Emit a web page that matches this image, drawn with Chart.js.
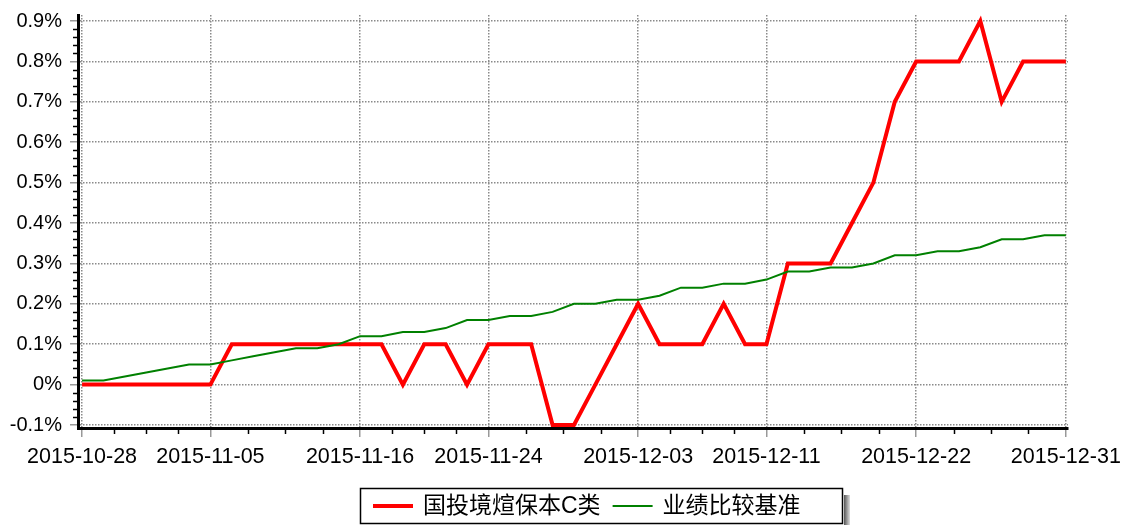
<!DOCTYPE html>
<html><head><meta charset="utf-8">
<script src="https://cdn.jsdelivr.net/npm/chart.js@4/dist/chart.umd.min.js"></script>
<style>html,body{margin:0;padding:0;background:#fff;}#wrap{width:1122px;height:525px;}</style>
</head><body><div id="wrap"><canvas id="c" width="1122" height="525"></canvas></div>
<script>
const dates = ['2015-10-28','2015-10-29','2015-10-30','2015-11-02','2015-11-03','2015-11-04','2015-11-05','2015-11-06',
'2015-11-09','2015-11-10','2015-11-11','2015-11-12','2015-11-13','2015-11-16','2015-11-17','2015-11-18','2015-11-19','2015-11-20',
'2015-11-23','2015-11-24','2015-11-25','2015-11-26','2015-11-27','2015-11-30','2015-12-01','2015-12-02','2015-12-03','2015-12-04',
'2015-12-07','2015-12-08','2015-12-09','2015-12-10','2015-12-11','2015-12-14','2015-12-15','2015-12-16','2015-12-17','2015-12-18',
'2015-12-21','2015-12-22','2015-12-23','2015-12-24','2015-12-25','2015-12-28','2015-12-29','2015-12-30','2015-12-31'];
const fundReturn = [0,0,0,0,0,0,0,0.1,0.1,0.1,0.1,0.1,0.1,0.1,0.1,0,0.1,0.1,0,0.1,0.1,0.1,-0.1,-0.1,0,0.1,0.2,0.1,0.1,0.1,0.2,0.1,0.1,
0.3,0.3,0.3,0.4,0.5,0.7,0.8,0.8,0.8,0.9,0.7,0.8,0.8,0.8];
const benchmarkReturn = [0.01,0.01,0.02,0.03,0.04,0.05,0.05,0.06,0.07,0.08,0.09,0.09,0.10,0.12,0.12,0.13,0.13,0.14,0.16,0.16,0.17,0.17,
0.18,0.20,0.20,0.21,0.21,0.22,0.24,0.24,0.25,0.25,0.26,0.28,0.28,0.29,0.29,0.30,0.32,0.32,0.33,0.33,0.34,0.36,0.36,0.37,0.37];
const tickDates = ['2015-10-28','2015-11-05','2015-11-16','2015-11-24','2015-12-03','2015-12-11','2015-12-22','2015-12-31'];
const yTicks = [-0.1,0,0.1,0.2,0.3,0.4,0.5,0.6,0.7,0.8,0.9];
const seriesNames = ['国投境煊保本C类','业绩比较基准'];
const seriesColors = ['#ff0000','#008000'];

const xTickIdx = tickDates.map(d => dates.indexOf(d));
const FONT = '"Liberation Sans", Arial, "Noto Sans CJK SC", sans-serif';

const extras = {
  id: 'extras',
  afterDraw(chart) {
    const ctx = chart.ctx, xs = chart.scales.x, ys = chart.scales.y;
    ctx.save();
    ctx.strokeStyle = '#000'; ctx.lineWidth = 1.5;
    for (let i = 0; i < xTickIdx.length - 1; i++) {
      const a = xTickIdx[i], b = xTickIdx[i+1];
      for (let k = 1; k < 4; k++) {
        const px = Math.round(xs.getPixelForValue(a + (b - a) * k / 4)) + 0.5;
        ctx.beginPath(); ctx.moveTo(px, xs.top + 1); ctx.lineTo(px, xs.top + 6); ctx.stroke();
      }
    }
    for (let i = 0; i < yTicks.length - 1; i++) {
      for (let k = 1; k < 5; k++) {
        const v = yTicks[i] + (yTicks[i+1] - yTicks[i]) * k / 5;
        const py = Math.round(ys.getPixelForValue(v)) + 0.5;
        ctx.beginPath(); ctx.moveTo(ys.right - 5, py); ctx.lineTo(ys.right - 1, py); ctx.stroke();
      }
    }
    // legend
    const bx = 360, by = 488, bw = 482, bh = 35;
    const g = ctx.createLinearGradient(bx + bw + 2, 0, bx + bw + 8, 0);
    g.addColorStop(0, '#555'); g.addColorStop(1, '#ddd');
    ctx.fillStyle = g;
    ctx.fillRect(bx + bw + 2, by + 7, 6, bh);
    ctx.fillStyle = '#fff';
    ctx.fillRect(bx, by, bw, bh);
    ctx.strokeStyle = '#000'; ctx.lineWidth = 1.5;
    ctx.strokeRect(bx + 0.5, by + 0.5, bw, bh);
    ctx.font = '23px ' + FONT;
    ctx.textBaseline = 'middle';
    ctx.textAlign = 'left';
    let x = bx + 13;
    const cy = by + 18;
    const widths = [4, 2];
    chart.data.datasets.forEach((ds, i) => {
      ctx.strokeStyle = ds.borderColor; ctx.lineWidth = widths[i];
      ctx.beginPath(); ctx.moveTo(x, cy); ctx.lineTo(x + 40, cy); ctx.stroke();
      x += 50;
      ctx.fillStyle = '#000';
      ctx.fillText(ds.label, x, cy + 1);
      x += ctx.measureText(ds.label).width + 12;
    });
    ctx.restore();
  }
};

new Chart(document.getElementById('c'), {
  type: 'line',
  data: {
    datasets: [
      { label: seriesNames[0], data: fundReturn.map((v, i) => ({x: i, y: v})), borderColor: seriesColors[0], borderWidth: 4,
        pointRadius: 0, tension: 0, fill: false, order: 1 },
      { label: seriesNames[1], data: benchmarkReturn.map((v, i) => ({x: i, y: v})), borderColor: seriesColors[1], borderWidth: 2,
        pointRadius: 0, tension: 0, fill: false, order: 0 }
    ]
  },
  options: {
    responsive: false, animation: false, devicePixelRatio: 1,
    layout: { padding: { left: 0, right: 54, top: 15, bottom: 57 } },
    plugins: { legend: { display: false }, tooltip: { enabled: false } },
    scales: {
      x: {
        type: 'linear', min: -0.19, max: 46.1,
        afterBuildTicks: s => { s.ticks = xTickIdx.map(v => ({ value: v })); },
        afterFit: s => { s.height = 40; s.paddingLeft = 0; s.paddingRight = 0; },
        ticks: { callback: v => dates[v], font: { family: FONT, size: 21.5 }, color: '#000', padding: 7, maxRotation: 0, autoSkip: false },
        grid: { color: '#8a8a8a', lineWidth: 1.5, tickColor: '#999', tickLength: 9, tickWidth: 1.5 },
        border: { display: true, color: '#000', width: 3, dash: [1.5, 1.5] }
      },
      y: {
        min: -0.1074, max: 0.915,
        afterBuildTicks: s => { s.ticks = yTicks.map(v => ({ value: v })); },
        afterFit: s => { s.width = 78; s.paddingTop = 0; s.paddingBottom = 0; },
        ticks: { callback: v => (Math.round(v * 10) / 10) + '%', font: { family: FONT, size: 20 }, color: '#000', padding: 8 },
        grid: { color: '#8a8a8a', lineWidth: 1.5, tickColor: '#999', tickLength: 8, tickWidth: 1.5 },
        border: { display: true, color: '#000', width: 3, dash: [1.5, 1.5] }
      }
    }
  },
  plugins: [extras]
});
</script></body></html>
